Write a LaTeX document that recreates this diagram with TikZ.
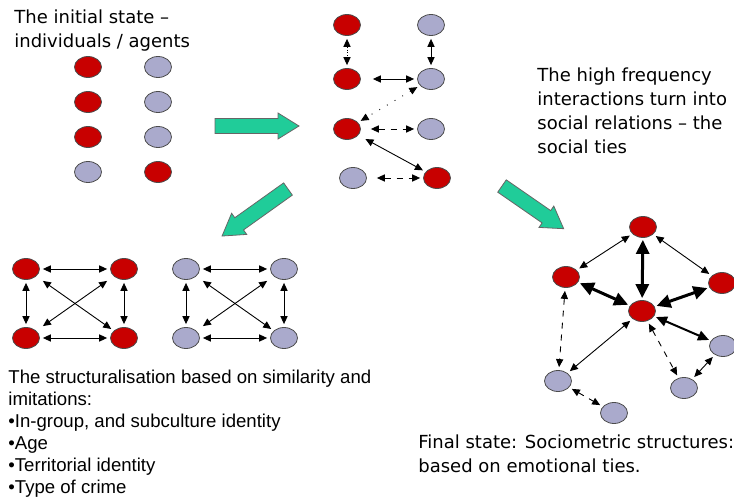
\documentclass[tikz,border=0pt]{standalone}
\usepackage{fontspec}
\setmainfont{DejaVu Sans}
\newfontfamily\listfont{Liberation Sans}
\usetikzlibrary{arrows.meta, shapes.geometric}

\definecolor{agentred}{RGB}{200,0,0}
\definecolor{agentgrey}{RGB}{170,170,204}
\definecolor{flowgreen}{RGB}{32,204,153}

\tikzset{
  agent/.style={ellipse, draw=black!70, line width=0.4pt, minimum width=13.5pt, minimum height=10.5pt, inner sep=0pt},
  red agent/.style={agent, fill=agentred},
  grey agent/.style={agent, fill=agentgrey},
  tie/.style={{Triangle[length=4pt,width=3.6pt]}-{Triangle[length=4pt,width=3.6pt]}, line width=0.45pt, shorten <=1.5pt, shorten >=1.5pt},
  medium tie/.style={{Triangle[length=5.5pt,width=5pt]}-{Triangle[length=5.5pt,width=5pt]}, line width=1pt, shorten <=1pt, shorten >=1pt},
  strong tie/.style={{Triangle[length=7pt,width=6.5pt]}-{Triangle[length=7pt,width=6.5pt]}, line width=1.5pt, shorten <=1pt, shorten >=1pt},
  label text/.style={font=\fontsize{9}{12}\selectfont, anchor=north west, align=left, inner sep=0pt},
  flow/.style={fill=flowgreen, draw=black!60, line width=0.4pt}
}

% big green arrow: tail point, angle, length
\newcommand\flowarrow[3]{%
  \begin{scope}[shift={#1}, rotate=#2]
    \filldraw[flow] (0,-7.5) -- (#3-21,-7.5) -- (#3-21,-13) -- (#3,0)
      -- (#3-21,13) -- (#3-21,7.5) -- (0,7.5) -- cycle;
  \end{scope}}

\begin{document}
\begin{tikzpicture}[x=0.5pt, y=-0.5pt]
  \useasboundingbox (0,0) rectangle (734,502);

  % Initial state
  \node[label text] (title) at (14,9) {The initial state --\\individuals / agents};
  \foreach \y [count=\i] in {67,102,137} {
    \node[red agent] (a\i) at (88,\y) {};
    \node[grey agent] (b\i) at (158,\y) {};
  }
  \node[grey agent] (a4) at (88,172) {};
  \node[red agent] (b4) at (158,172) {};

  % Flows
  \flowarrow{(215,126)}{0}{84}
  \flowarrow{(288,189)}{215.5}{81}
  \flowarrow{(502,186)}{-34.7}{75}

  % Interactions
  \node[red agent] (m1) at (347,25) {};
  \node[grey agent] (n1) at (431,25) {};
  \node[red agent] (m2) at (347,79) {};
  \node[grey agent] (n2) at (431,79) {};
  \node[red agent] (m3) at (347,129) {};
  \node[grey agent] (n3) at (431,129) {};
  \node[grey agent] (m4) at (353,178) {};
  \node[red agent] (n4) at (437,178) {};
  \draw[tie, densely dotted] (m1) -- (m2);
  \draw[tie] (n1) -- (n2);
  \draw[tie, shorten <=6pt] (m2) -- (n2);
  \draw[tie, loosely dotted] (n2) -- (m3);
  \draw[tie, dashed, shorten <=5pt] (m3) -- (n3);
  \draw[tie, shorten <=4pt] (m3) -- (n4);
  \draw[tie, dashed, shorten <=5pt] (m4) -- (n4);
  \node[label text] (ties) at (537,67) {The high frequency\\interactions turn into\\social relations -- the\\social ties};

  % Similarity groups
  \foreach \grp/\x/\sty in {r/26/red agent, g/186/grey agent} {
    \node[\sty] (\grp tl) at (\x,269) {};
    \node[\sty] (\grp tr) at (\x+98,269) {};
    \node[\sty] (\grp bl) at (\x,338) {};
    \node[\sty] (\grp br) at (\x+98,338) {};
    \draw[tie] (\grp tl) -- (\grp tr);
    \draw[tie] (\grp bl) -- (\grp br);
    \draw[tie] (\grp tl) -- (\grp bl);
    \draw[tie] (\grp tr) -- (\grp br);
    \draw[tie, shorten <=4pt] (\grp tl) -- (\grp br);
    \draw[tie, shorten <=4pt, shorten >=4pt] (\grp tr) -- (\grp bl);
  }
  \node[label text, font=\listfont\fontsize{9.3}{11}\selectfont] (simil) at (8,370)
    {The structuralisation based on similarity and\\imitations:\\%
     •In-group, and subculture identity\\•Age\\•Territorial identity\\•Type of crime};

  % Final state
  \node[red agent] (ft) at (643,227) {};
  \node[red agent] (fl) at (566,277) {};
  \node[red agent] (fr) at (722,283) {};
  \node[red agent] (fc) at (642,311) {};
  \node[grey agent] (gr) at (723,346) {};
  \node[grey agent] (gl) at (558,381) {};
  \node[grey agent] (gm) at (684,388) {};
  \node[grey agent] (gb) at (614,413) {};
  \draw[tie] (ft) -- (fl);
  \draw[tie] (ft) -- (fr);
  \draw[strong tie] (ft) -- (fc);
  \draw[strong tie] (fl) -- (fc);
  \draw[strong tie] (fr) -- (fc);
  \draw[medium tie] (fc) -- (gr);
  \draw[tie] (fc) -- (gl);
  \draw[tie, dashed] (fc) -- (gm);
  \draw[tie, dashed] (fl) -- (gl);
  \draw[tie, dashed] (gl) -- (gb);
  \draw[tie] (gm) -- (gr);
  \node[label text] (final) at (418,434) {Final state: Sociometric structures:\\based on emotional ties.};
\end{tikzpicture}
\end{document}
